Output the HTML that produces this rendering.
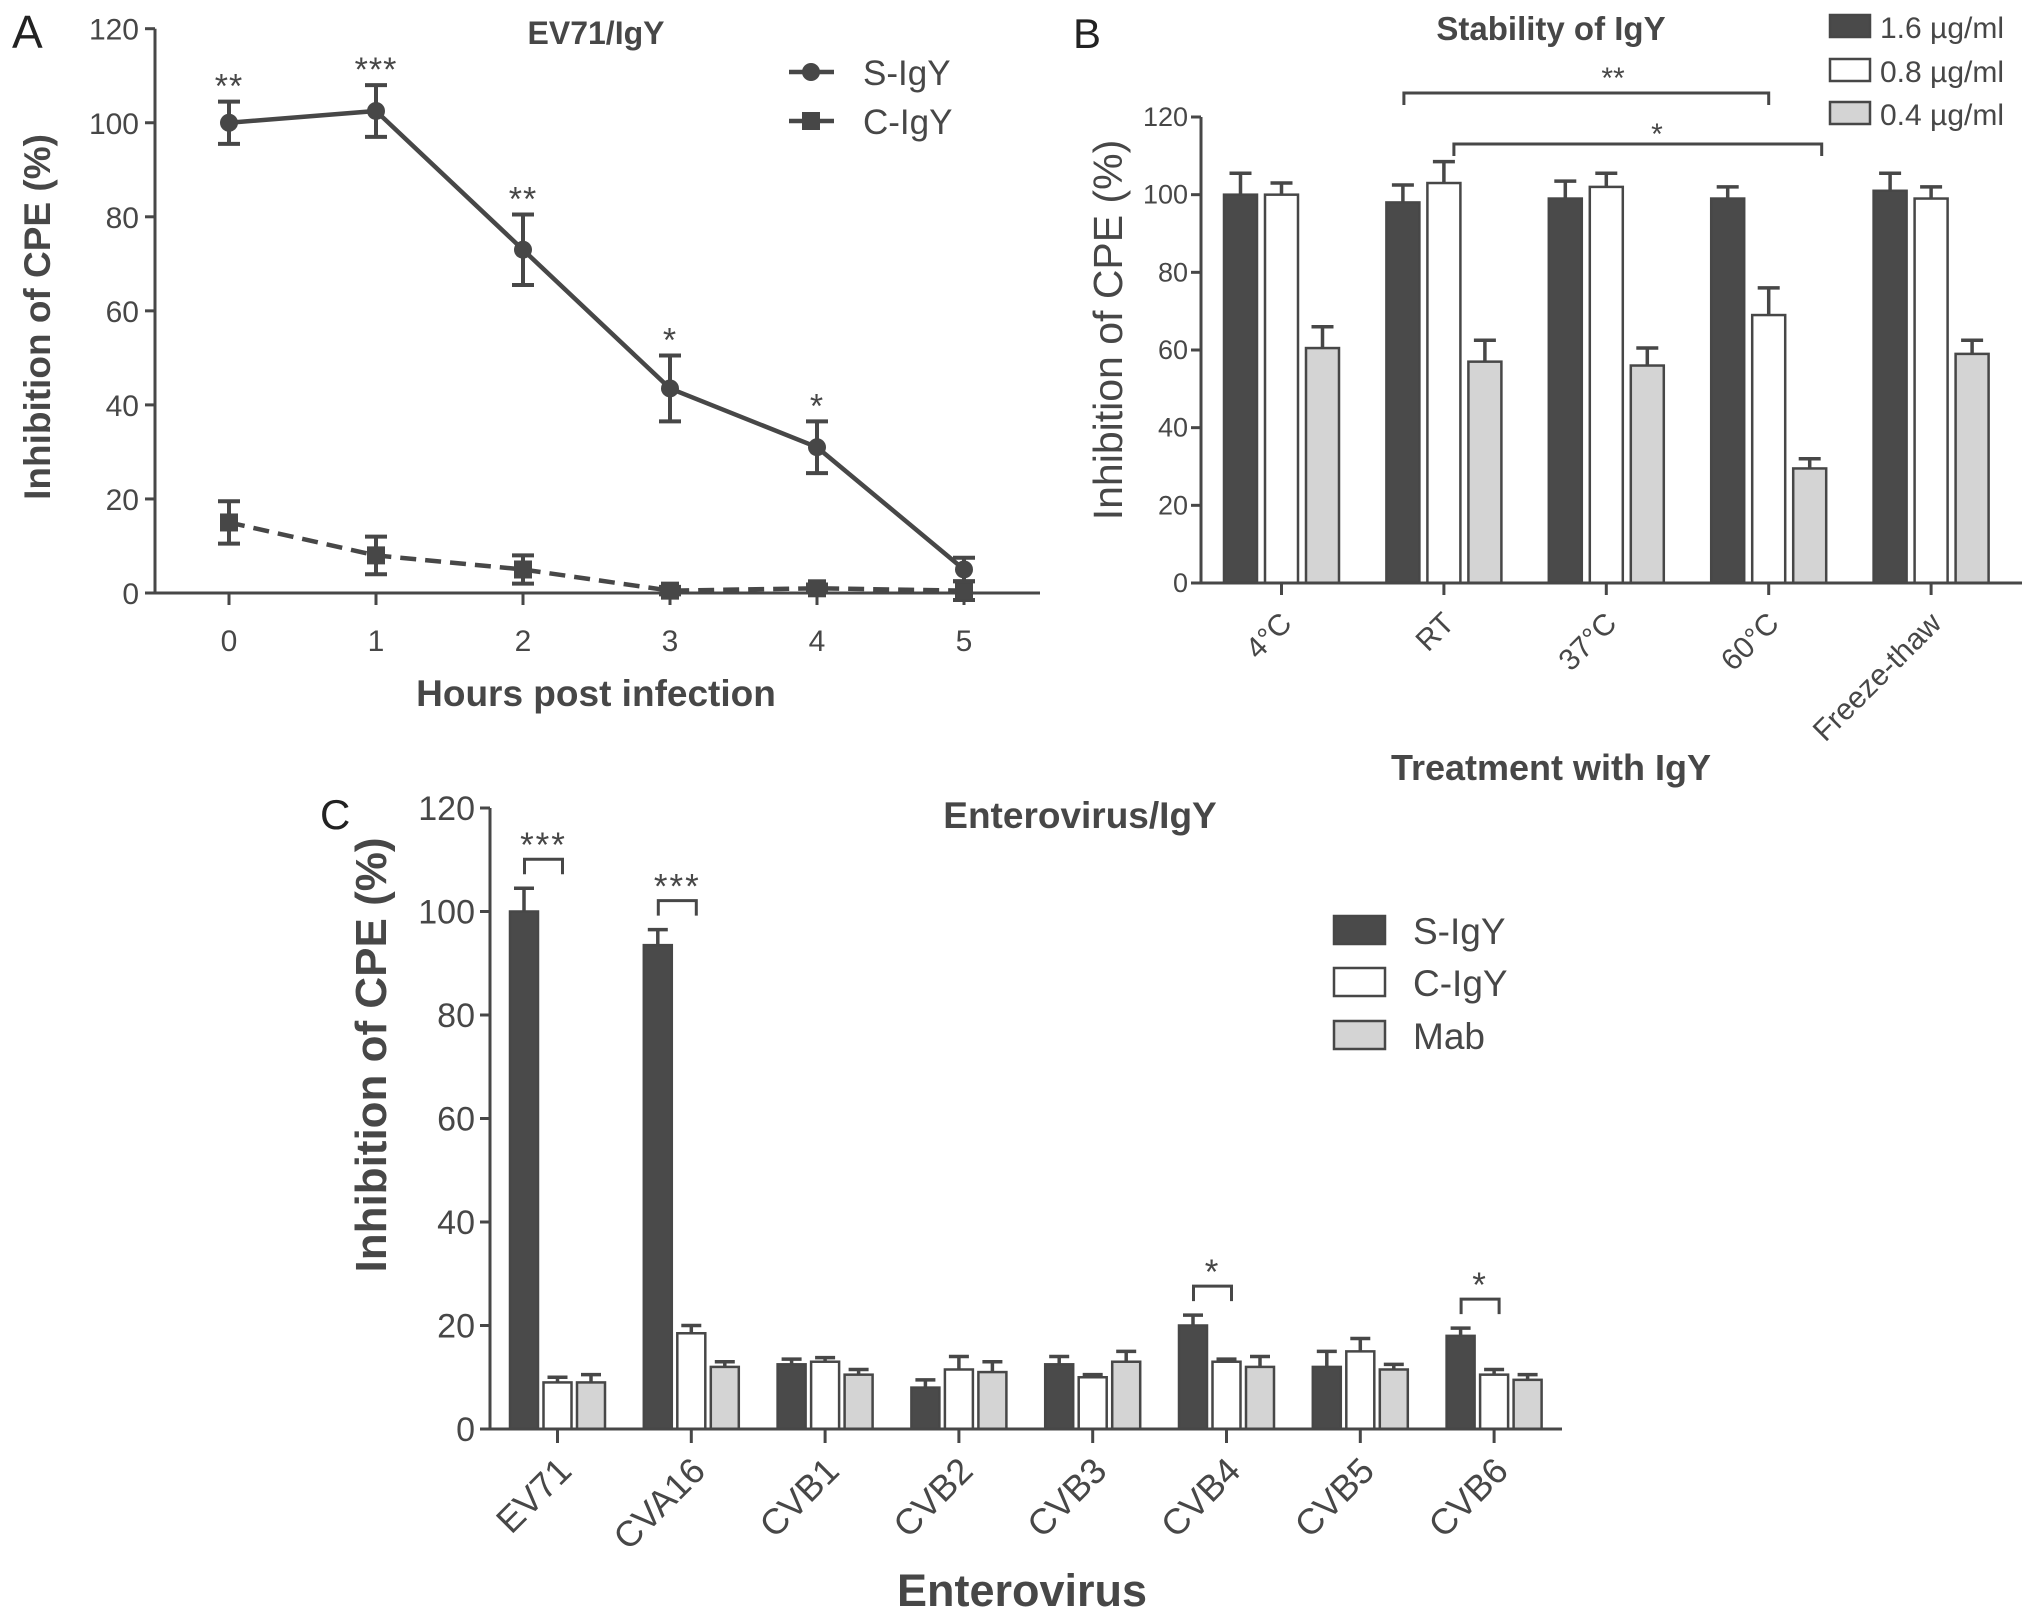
<!DOCTYPE html>
<html><head><meta charset="utf-8"><style>
html,body{margin:0;padding:0;background:#fff;}
svg{display:block;font-family:"Liberation Sans",Arial,sans-serif;}
</style></head><body>
<svg id="fig" width="2031" height="1618" viewBox="0 0 2031 1618" xmlns="http://www.w3.org/2000/svg">
<rect width="2031" height="1618" fill="#fff"/>
<g id="pA"></g>
<g id="pB"></g>
<g id="pC"></g>
</svg>
<script>
// ---- Panel A data ----
const hoursA = [0,1,2,3,4,5];
const sIgY = [100,102.5,73,43.5,31,5];
const sIgYErr = [4.5,5.5,7.5,7,5.5,2.5];
const cIgY = [15,8,5,0.5,1,0.5];
const cIgYErr = [4.5,4,3,0.8,0.8,2];
const starsA = ["**","***","**","*","*",""];
const yTicksA = [0,20,40,60,80,100,120];
// ---- Panel B data ----
const catsB = ["4°C","RT","37°C","60°C","Freeze-thaw"];
const b16 = [100,98,99,99,101];
const b16Err = [5.5,4.5,4.5,3,4.5];
const b08 = [100,103,102,69,99];
const b08Err = [3,5.5,3.5,7,3];
const b04 = [60.5,57,56,29.5,59];
const b04Err = [5.5,5.5,4.5,2.5,3.5];
const yTicksB = [0,20,40,60,80,100,120];
// ---- Panel C data ----
const catsC = ["EV71","CVA16","CVB1","CVB2","CVB3","CVB4","CVB5","CVB6"];
const cS = [100,93.5,12.5,8,12.5,20,12,18];
const cSErr = [4.5,3,1,1.5,1.5,2,3,1.5];
const cC = [9,18.5,13,11.5,10,13,15,10.5];
const cCErr = [1,1.5,0.8,2.5,0.5,0.5,2.5,1];
const cM = [9,12,10.5,11,13,12,11.5,9.5];
const cMErr = [1.5,1,1,2,2,2,1,1];
const starsC = ["***","***","","","","*","","*"];
const yTicksC = [0,20,40,60,80,100,120];

const NS="http://www.w3.org/2000/svg";
const INK="#474747";
function mk(parent,tag,attrs,text){const e=document.createElementNS(NS,tag);for(const k in attrs)e.setAttribute(k,attrs[k]);if(text!==undefined)e.textContent=text;parent.appendChild(e);return e;}

// ================= Panel A =================
(function(){
const g=document.getElementById('pA');
const x0=155,xEnd=1040,y0=593,yTop=28.7;
const xA=h=>229+h*147;
const yA=v=>y0-(v/120)*(y0-yTop);
let t=mk(g,'text',{x:12,y:48,'font-size':46,fill:'#222'},'A');

t=mk(g,'text',{x:596,y:44,'font-size':32,'font-weight':'bold','text-anchor':'middle',fill:INK},'EV71/IgY');

let ax=mk(g,'path',{d:`M${x0},${yTop} V${y0} H${xEnd}`,stroke:INK,'stroke-width':3,fill:'none'});

yTicksA.forEach(v=>{mk(g,'line',{x1:x0-10,x2:x0,y1:yA(v),y2:yA(v),stroke:INK,'stroke-width':3});
 const l=mk(g,'text',{x:x0-16,y:yA(v)+11,'font-size':30,'text-anchor':'end',fill:INK},String(v));
 });
hoursA.forEach(h=>{mk(g,'line',{x1:xA(h),x2:xA(h),y1:y0,y2:y0+12,stroke:INK,'stroke-width':3});
 const l=mk(g,'text',{x:xA(h),y:651,'font-size':30,'text-anchor':'middle',fill:INK},String(h));
 });
t=mk(g,'text',{x:596,y:706,'font-size':37,'font-weight':'bold','text-anchor':'middle',fill:INK},'Hours post infection');

t=mk(g,'text',{transform:'translate(50,317) rotate(-90)','font-size':37,'font-weight':'bold','text-anchor':'middle',fill:INK},'Inhibition of CPE  (%)');

let p=mk(g,'polyline',{points:hoursA.map((h,i)=>xA(h)+','+yA(cIgY[i])).join(' '),fill:'none',stroke:INK,'stroke-width':4.5,'stroke-dasharray':'16,9'});

hoursA.forEach((h,i)=>{const x=xA(h);
 mk(g,'path',{d:`M${x},${yA(cIgY[i]-cIgYErr[i])}V${yA(cIgY[i]+cIgYErr[i])}M${x-11},${yA(cIgY[i]-cIgYErr[i])}h22M${x-11},${yA(cIgY[i]+cIgYErr[i])}h22`,stroke:INK,'stroke-width':4,fill:'none'});
 const r=mk(g,'rect',{x:x-9,y:yA(cIgY[i])-9,width:18,height:18,fill:INK});
 });
p=mk(g,'polyline',{points:hoursA.map((h,i)=>xA(h)+','+yA(sIgY[i])).join(' '),fill:'none',stroke:INK,'stroke-width':4.5});

hoursA.forEach((h,i)=>{const x=xA(h);const lo=yA(sIgY[i]-sIgYErr[i]),hi=yA(sIgY[i]+sIgYErr[i]);
 mk(g,'path',{d:`M${x},${lo}V${hi}M${x-11},${lo}h22M${x-11},${hi}h22`,stroke:INK,'stroke-width':4,fill:'none'});
 const c=mk(g,'circle',{cx:x,cy:yA(sIgY[i]),r:9,fill:INK});
 
 if(starsA[i]){const s=mk(g,'text',{x:x,y:hi-4,'font-size':34,'text-anchor':'middle',fill:INK,'letter-spacing':'1'},starsA[i]);
 }});
let le=mk(g,'g',{});
mk(le,'line',{x1:789,x2:834,y1:72,y2:72,stroke:INK,'stroke-width':4.5});mk(le,'circle',{cx:811,cy:72,r:9,fill:INK});
mk(le,'text',{x:863,y:85,'font-size':35,fill:INK},'S-IgY');
le=mk(g,'g',{});
mk(le,'line',{x1:789,x2:834,y1:121,y2:121,stroke:INK,'stroke-width':4.5});mk(le,'rect',{x:802,y:112,width:18,height:18,fill:INK});
mk(le,'text',{x:863,y:134,'font-size':35,fill:INK},'C-IgY');
})();

// ================= Panel B =================
(function(){
const g=document.getElementById('pB');
const x0=1201,xEnd=2022,y0=583,yTop=117;
const xB=i=>1281.5+i*162.4;
const yB=v=>y0-(v/120)*(y0-yTop);
const fills=['#4a4a4a','#ffffff','#d4d4d4'];
const series=[[b16,b16Err,'bar-1-6'],[b08,b08Err,'bar-0-8'],[b04,b04Err,'bar-0-4']];
let t=mk(g,'text',{x:1073,y:48,'font-size':42,fill:'#222'},'B');

t=mk(g,'text',{x:1551,y:40,'font-size':33,'font-weight':'bold','text-anchor':'middle',fill:INK},'Stability of IgY');

series.forEach((s,k)=>{catsB.forEach((c,i)=>{const cx=xB(i)+(k-1)*41;const v=s[0][i],e=s[1][i];
 mk(g,'path',{d:`M${cx},${yB(v)}V${yB(v+e)}M${cx-11},${yB(v+e)}h22`,stroke:INK,'stroke-width':3.5,fill:'none'});
 const r=mk(g,'rect',{x:cx-16.5,y:yB(v),width:33,height:y0-yB(v),fill:fills[k],stroke:INK,'stroke-width':2.5});
 });});
let ax=mk(g,'path',{d:`M${x0},${yTop} V${y0} H${xEnd}`,stroke:INK,'stroke-width':3,fill:'none'});

yTicksB.forEach(v=>{mk(g,'line',{x1:x0-10,x2:x0,y1:yB(v),y2:yB(v),stroke:INK,'stroke-width':3});
 const l=mk(g,'text',{x:x0-13,y:yB(v)+9,'font-size':27,'text-anchor':'end',fill:INK},String(v));
 });
catsB.forEach((c,i)=>{const x=xB(i);mk(g,'line',{x1:x,x2:x,y1:y0,y2:y0+12,stroke:INK,'stroke-width':3});
 const l=mk(g,'text',{transform:`translate(${x+12},${y0+42}) rotate(-45)`,'font-size':30,'text-anchor':'end',fill:INK},c);
 });
t=mk(g,'text',{x:1551,y:780,'font-size':36,'font-weight':'bold','text-anchor':'middle',fill:INK},'Treatment with IgY');

t=mk(g,'text',{transform:'translate(1122,330) rotate(-90)','font-size':41,'text-anchor':'middle',fill:INK},'Inhibition of CPE (%)');

let b=mk(g,'path',{d:`M${xB(1)-40},105V93H${xB(3)}V105`,stroke:INK,'stroke-width':3,fill:'none'});

t=mk(g,'text',{x:1613,y:88,'font-size':30,'text-anchor':'middle',fill:INK},'**');

b=mk(g,'path',{d:`M${xB(1)+10},156V144H${xB(3)+53}V156`,stroke:INK,'stroke-width':3,fill:'none'});

t=mk(g,'text',{x:1657,y:144,'font-size':30,'text-anchor':'middle',fill:INK},'*');

const legB=['1.6 µg/ml','0.8 µg/ml','0.4 µg/ml'];const ly=[15,59,102];
legB.forEach((s,k)=>{const e=mk(g,'g',{});
 mk(e,'rect',{x:1830,y:ly[k],width:40,height:22,fill:fills[k],stroke:INK,'stroke-width':2.5});
 mk(e,'text',{x:1880,y:ly[k]+23,'font-size':30,fill:INK},s);});
})();

// ================= Panel C =================
(function(){
const g=document.getElementById('pC');
const x0=490,xEnd=1562,y0=1429,yTop=808;
const xC=i=>557.5+i*133.8;
const yC=v=>y0-(v/120)*(y0-yTop);
const fills=['#4a4a4a','#ffffff','#d4d4d4'];
const series=[[cS,cSErr,'bar-s-igy'],[cC,cCErr,'bar-c-igy'],[cM,cMErr,'bar-mab']];
let t=mk(g,'text',{x:320,y:829,'font-size':42,fill:'#222'},'C');

t=mk(g,'text',{x:1080,y:828,'font-size':37,'font-weight':'bold','text-anchor':'middle',fill:INK},'Enterovirus/IgY');

series.forEach((s,k)=>{catsC.forEach((c,i)=>{const cx=xC(i)+(k-1)*33.5;const v=s[0][i],e=s[1][i];
 mk(g,'path',{d:`M${cx},${yC(v)}V${yC(v+e)}M${cx-10},${yC(v+e)}h20`,stroke:INK,'stroke-width':3.5,fill:'none'});
 const r=mk(g,'rect',{x:cx-14,y:yC(v),width:28,height:y0-yC(v),fill:fills[k],stroke:INK,'stroke-width':2.5});
 });});
let ax=mk(g,'path',{d:`M${x0},${yTop} V${y0} H${xEnd}`,stroke:INK,'stroke-width':3,fill:'none'});

yTicksC.forEach(v=>{mk(g,'line',{x1:x0-10,x2:x0,y1:yC(v),y2:yC(v),stroke:INK,'stroke-width':3});
 const l=mk(g,'text',{x:x0-15,y:yC(v)+12,'font-size':34,'text-anchor':'end',fill:INK},String(v));
 });
catsC.forEach((c,i)=>{const x=xC(i);mk(g,'line',{x1:x,x2:x,y1:y0,y2:y0+14,stroke:INK,'stroke-width':3});
 const l=mk(g,'text',{transform:`translate(${x+16},${y0+44}) rotate(-45)`,'font-size':36,'text-anchor':'end',fill:INK},c);
 
 if(starsC[i]){const top=Math.max(cS[i]+cSErr[i],cC[i]+cCErr[i]);const yb=yC(top)-14,yt=yb-15;
  const br=mk(g,'path',{d:`M${x-33},${yb}V${yt}H${x+5}V${yb}`,stroke:INK,'stroke-width':3,fill:'none'});
  
  const s=mk(g,'text',{x:x-14,y:yt-2,'font-size':35,'text-anchor':'middle',fill:INK,'letter-spacing':'2'},starsC[i]);
  }});
t=mk(g,'text',{x:1022,y:1606,'font-size':45,'font-weight':'bold','text-anchor':'middle',fill:INK},'Enterovirus');

t=mk(g,'text',{transform:'translate(386,1055) rotate(-90)','font-size':44,'font-weight':'bold','text-anchor':'middle',fill:INK},'Inhibition of CPE  (%)');

const legC=['S-IgY','C-IgY','Mab'];const ly=[916,968,1021];
legC.forEach((s,k)=>{const e=mk(g,'g',{});
 mk(e,'rect',{x:1334,y:ly[k],width:51,height:28,fill:fills[k],stroke:INK,'stroke-width':2.5});
 mk(e,'text',{x:1413,y:ly[k]+28,'font-size':37,fill:INK},s);});
})();
</script>
</body></html>
